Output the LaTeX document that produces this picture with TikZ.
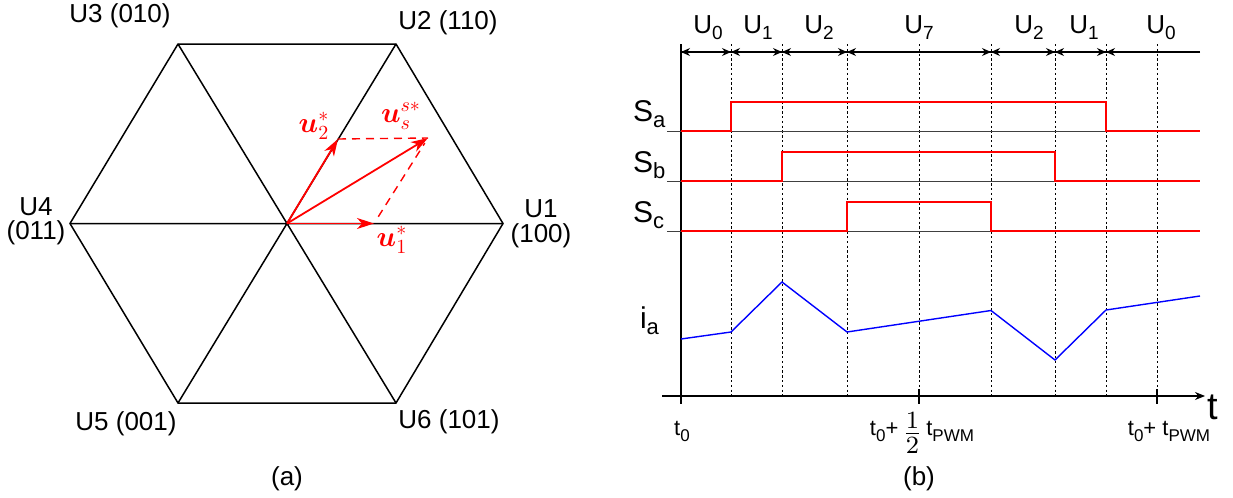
\documentclass[tikz,border=0pt]{standalone}
\usepackage{fontspec}
\setmainfont{Liberation Sans}
\usepackage{amsmath}
\usepackage{graphicx}
\usetikzlibrary{arrows.meta}
\newcommand{\mysub}[2]{\raisebox{-3pt}{\fontsize{#1}{#1}\selectfont #2}}
\newcommand{\myhalf}{\raisebox{-3.5pt}{\scalebox{1.55}{$\frac{1}{2}$}}}
\begin{document}
\begin{tikzpicture}[x=0.5pt,y=-0.5pt,
  every node/.style={inner sep=0pt, outer sep=0pt},
  txt/.style={font=\fontsize{13}{15}\selectfont},
  big/.style={font=\fontsize{15}{17}\selectfont},
  small/.style={font=\fontsize{11}{13}\selectfont},
  mathlbl/.style={red, font=\fontsize{14}{16}\selectfont},
  hexline/.style={line width=0.75pt, black},
  vec/.style={red, line width=0.9pt, -{Stealth[length=8.5pt,width=5.5pt,inset=2.5pt]}},
  aux/.style={red, line width=0.7pt, dash pattern=on 4pt off 3pt},
  axis/.style={line width=0.6pt, black},
  gridline/.style={line width=0.45pt, black, dash pattern=on 1.2pt off 1.2pt},
  dim/.style={line width=0.6pt, {Stealth[length=4.5pt,width=4pt]}-{Stealth[length=4.5pt,width=4pt]}},
  halfdim/.style={line width=0.6pt, -{Stealth[length=4.5pt,width=4pt]}},
  base/.style={line width=0.5pt, black!75},
  sig/.style={line width=0.9pt, red},
  cur/.style={line width=0.7pt, blue},
]
\useasboundingbox (0,0) rectangle (1233,498);

% ---------------- (a) hexagon ----------------
\coordinate (O) at (287,223.5);
\coordinate (V1) at (503,223.5);
\coordinate (V2) at (396,44);
\coordinate (V3) at (178,44);
\coordinate (V4) at (70,223.5);
\coordinate (V5) at (178,403);
\coordinate (V6) at (396,403);
\draw[hexline] (V1)--(V2)--(V3)--(V4)--(V5)--(V6)--cycle;
\draw[hexline] (V1)--(V4) (V2)--(V5) (V3)--(V6);

\node[txt, anchor=base] (L3) at (120,22) {U3 (010)};
\node[txt, anchor=base] (L2) at (448,30) {U2 (110)};
\node[txt, anchor=base] (L4a) at (36,215) {U4};
\node[txt, anchor=base] (L4b) at (36,239) {(011)};
\node[txt, anchor=base] (L1a) at (541,217) {U1};
\node[txt, anchor=base] (L1b) at (541,242) {(100)};
\node[txt, anchor=base] (L5) at (126,430) {U5 (001)};
\node[txt, anchor=base] (L6) at (449,428) {U6 (101)};
\node[txt, anchor=base] (La) at (287,485) {(a)};

\coordinate (T1) at (374,223.5);
\coordinate (T2) at (338,139);
\coordinate (TS) at (428,138);
\draw[aux] (T2) -- (TS);
\draw[aux, shorten <=4pt, shorten >=3pt] (T1) -- (TS);
\draw[vec] (O) -- (T1);
\draw[vec] (O) -- (T2);
\draw[vec] (O) -- (TS);
\node[mathlbl] (lu2) at (314,126) {$\boldsymbol{u}_2^*$};
\node[mathlbl] (lus) at (401,116) {$\boldsymbol{u}_s^{s*}$};
\node[mathlbl] (lu1) at (392,240) {$\boldsymbol{u}_1^*$};

% ---------------- (b) timing ----------------
\foreach \x in {731,782,847,919,991,1055,1106,1157}
  \draw[gridline] (\x,44) -- (\x,396);

\coordinate (D0) at (681,52);
\coordinate (D1) at (731,52);
\coordinate (D2) at (782,52);
\coordinate (D3) at (847,52);
\coordinate (D4) at (991,52);
\coordinate (D5) at (1055,52);
\coordinate (D6) at (1106,52);
\coordinate (DR) at (1200,52);
\draw[axis] (D0) -- (DR);
\draw[dim] (D0) -- (D1);
\draw[dim] (D1) -- (D2);
\draw[dim] (D2) -- (D3);
\draw[dim] (D3) -- (D4);
\draw[dim] (D4) -- (D5);
\draw[dim] (D5) -- (D6);
\draw[halfdim] (DR) -- (D6);

\node[txt, anchor=base] (u0a) at (708,33) {U\mysub{9.5}{0}};
\node[txt, anchor=base] (u1a) at (758,33) {U\mysub{9.5}{1}};
\node[txt, anchor=base] (u2a) at (819,33) {U\mysub{9.5}{2}};
\node[txt, anchor=base] (u7) at (919,33) {U\mysub{9.5}{7}};
\node[txt, anchor=base] (u2b) at (1029,33) {U\mysub{9.5}{2}};
\node[txt, anchor=base] (u1b) at (1084,33) {U\mysub{9.5}{1}};
\node[txt, anchor=base] (u0b) at (1161,33) {U\mysub{9.5}{0}};

% axes
\coordinate (Atop) at (681,44);
\coordinate (Abot) at (681,404);
\draw[axis] (Atop) -- (Abot);
\coordinate (Tl) at (662,396);
\coordinate (Tr) at (1205,396);
\draw[axis, -{Stealth[length=5pt,width=4pt]}] (Tl) -- (Tr);
\foreach \x in {681,919,1157}
  \draw[axis] (\x,389) -- (\x,404);
\node[font=\fontsize{19}{21}\selectfont, anchor=base] (tl) at (1213,419) {t};

% switching signals
\draw[base] (667,131) -- (1200,131);
\draw[sig] (681,131) -| (731,102) -| (1106,131) -- (1200,131);
\draw[base] (667,181) -- (1200,181);
\draw[sig] (681,181) -| (782,152) -| (1055,181) -- (1200,181);
\draw[base] (667,231) -- (1200,231);
\draw[sig] (681,231) -| (847,202) -| (991,231) -- (1200,231);

\node[big, anchor=base west] (sa) at (633,121) {S\mysub{11}{a}};
\node[big, anchor=base west] (sb) at (633,172) {S\mysub{11}{b}};
\node[big, anchor=base west] (sc) at (633,222) {S\mysub{11}{c}};

% phase current
\draw[cur] (681,339) -- (731,332) -- (782,282) -- (847,332) -- (991,310.5) -- (1055,360) -- (1106,310) -- (1200,296);
\node[big, anchor=base west] (ia) at (640,328) {i\mysub{11}{a}};

% time labels
\node[small, anchor=base] (t0) at (682,435) {t\mysub{8.5}{0}};
\node[small, anchor=base] (th) at (922,435) {t\mysub{8.5}{0}+\,\myhalf\,t\mysub{8.5}{PWM}};
\node[small, anchor=base] (tT) at (1169,435) {t\mysub{8.5}{0}+ t\mysub{8.5}{PWM}};
\node[txt, anchor=base] (Lb) at (919,485) {(b)};
\end{tikzpicture}
\end{document}
